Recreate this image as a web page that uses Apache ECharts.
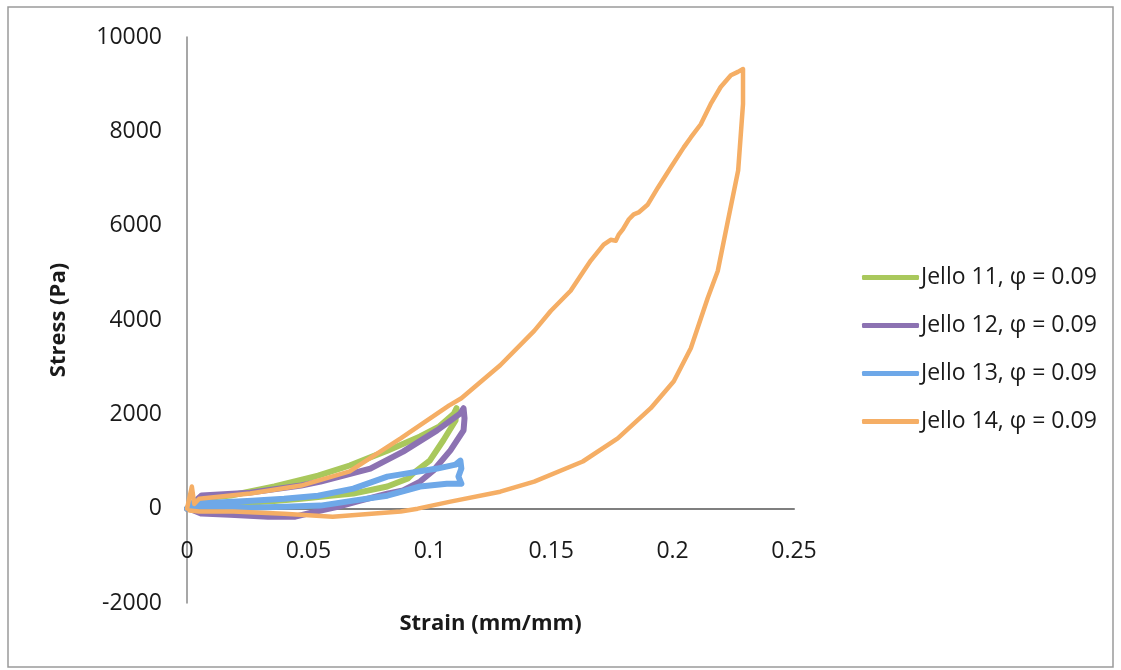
<!DOCTYPE html>
<html>
<head>
<meta charset="utf-8">
<script src="https://cdn.jsdelivr.net/npm/echarts@6/dist/echarts.min.js"></script>
<style>
html,body{margin:0;padding:0;background:#fff;}
#chart{width:1121px;height:670px;}
</style>
</head>
<body>
<div id="chart"></div>
<script>
// Series names
const seriesNames = ['Jello 11, φ = 0.09', 'Jello 12, φ = 0.09', 'Jello 13, φ = 0.09', 'Jello 14, φ = 0.09'];

// Jello 11 (loading then unloading)
const strain11 = [0, 0.005, 0.018, 0.036, 0.054, 0.067, 0.0825, 0.096, 0.104, 0.110, 0.111,
  0.1106, 0.1056, 0.100, 0.093, 0.091, 0.0825, 0.0685, 0.055, 0.047, 0.0334, 0.0177, 0.005, 0.001];
const stress11 = [0, 210, 280, 470, 700, 915, 1230, 1530, 1745, 2020, 2130,
  1870, 1450, 1020, 745, 640, 470, 320, 255, 210, 150, 105, 65, 0];

// Jello 12
const strain12 = [0, 0.006, 0.026, 0.047, 0.055, 0.0755, 0.089, 0.103, 0.1126, 0.1139, 0.1143,
  0.1139, 0.1085, 0.1015, 0.096, 0.089, 0.0825, 0.0714, 0.062, 0.055, 0.0446, 0.0334, 0.0177, 0.006, 0.001];
const stress12 = [0, 280, 340, 490, 575, 850, 1210, 1660, 2020, 2130, 1915,
  1660, 1235, 810, 575, 385, 320, 170, 40, -40, -170, -170, -130, -105, 0];

// Jello 13
const strain13 = [0, 0.003, 0.0128, 0.0268, 0.040, 0.054, 0.0685, 0.0825, 0.103, 0.1106, 0.1126,
  0.113, 0.1118, 0.113, 0.107, 0.096, 0.0825, 0.0685, 0.055, 0.040, 0.026, 0.0128, 0.003, 0.001];
const stress13 = [0, 150, 130, 170, 210, 275, 425, 680, 850, 935, 1020,
  850, 680, 530, 530, 470, 275, 170, 65, 40, 20, 40, 40, 0];

// Jello 14
const strain14 = [0, 0.002, 0.003, 0.005, 0.026, 0.047, 0.067, 0.088, 0.108, 0.113, 0.129, 0.143,
  0.1498, 0.158, 0.1634, 0.1663, 0.1716, 0.1745, 0.1766, 0.1778, 0.1795, 0.1819, 0.184, 0.186,
  0.1898, 0.194, 0.1993, 0.2046, 0.2075, 0.2116, 0.2157, 0.2198, 0.224, 0.2269, 0.229,
  0.229, 0.227, 0.2228, 0.2186, 0.2145, 0.2075, 0.2005, 0.191, 0.1774, 0.163, 0.143, 0.129,
  0.1085, 0.095, 0.088, 0.060, 0.040, 0.019, 0.005, 0.001];
const stress14 = [0, 470, 100, 210, 320, 490, 790, 1490, 2190, 2340, 3040, 3770,
  4190, 4620, 5040, 5260, 5600, 5700, 5680, 5810, 5920, 6130, 6240, 6280,
  6450, 6810, 7240, 7660, 7870, 8150, 8580, 8940, 9190, 9260, 9320,
  8580, 7170, 6110, 5040, 4470, 3400, 2700, 2130, 1490, 1000, 575, 360,
  150, 0, -60, -170, -110, -60, -60, -40];

// Axis ticks
const xTicks = [0, 0.05, 0.1, 0.15, 0.2, 0.25];
const yTicks = [-2000, 0, 2000, 4000, 6000, 8000, 10000];

const colors = ['#A9C85C', '#8C72B2', '#6EA8E8', '#F5AE65'];
const widths = [6, 6, 6, 4.5];

const zip = (xs, ys) => xs.map((x, i) => [x, ys[i]]);
const allData = [zip(strain11, stress11), zip(strain12, stress12), zip(strain13, stress13), zip(strain14, stress14)];

const FONT = '"Open Sans", "DejaVu Sans", sans-serif';

const chart = echarts.init(document.getElementById('chart'), null, {renderer: 'canvas'});
chart.setOption({
  animation: false,
  backgroundColor: '#ffffff',
  color: colors,
  graphic: [{
    type: 'rect',
    shape: {x: 8, y: 7, width: 1105, height: 660},
    style: {fill: 'none', stroke: '#9a9a9a', lineWidth: 1.5},
    silent: true,
    z: -1
  }],
  grid: {left: 187, right: 327, top: 37, bottom: 67, containLabel: false, outerBoundsMode: 'none'},
  legend: {
    orient: 'vertical',
    left: 857,
    top: 261,
    itemWidth: 57,
    itemHeight: 5,
    itemGap: 25,
    icon: 'roundRect',
    textStyle: {fontFamily: FONT, fontSize: 23, color: '#1a1a1a', padding: [0, 0, 0, -3]},
    data: seriesNames
  },
  xAxis: {
    type: 'value',
    min: xTicks[0],
    max: xTicks[xTicks.length - 1],
    interval: 0.05,
    name: 'Strain (mm/mm)',
    nameLocation: 'middle',
    nameGap: 10,
    nameTextStyle: {fontFamily: FONT, fontSize: 22, fontWeight: 'bold', color: '#1a1a1a'},
    axisLine: {onZero: true, lineStyle: {color: '#7f7f7f', width: 2}},
    axisTick: {show: false},
    splitLine: {show: false},
    axisLabel: {fontFamily: FONT, fontSize: 23, color: '#1a1a1a', margin: -63, formatter: v => String(v)}
  },
  yAxis: {
    type: 'value',
    min: yTicks[0],
    max: yTicks[yTicks.length - 1],
    interval: 2000,
    name: 'Stress (Pa)',
    nameLocation: 'middle',
    nameRotate: 90,
    nameGap: 117,
    nameTextStyle: {fontFamily: FONT, fontSize: 22, fontWeight: 'bold', color: '#1a1a1a'},
    axisLine: {show: true, onZero: false, lineStyle: {color: '#8a8a8a', width: 1.5}},
    axisTick: {show: false},
    splitLine: {show: false},
    axisLabel: {fontFamily: FONT, fontSize: 23, color: '#1a1a1a', margin: 25, formatter: v => String(v)}
  },
  series: allData.map((d, i) => ({
    name: seriesNames[i],
    type: 'line',
    data: d,
    showSymbol: false,
    symbol: 'none',
    smooth: false,
    lineStyle: {width: widths[i], color: colors[i], join: 'round', cap: 'round'},
    itemStyle: {color: colors[i]},
    z: 2 + i
  }))
});
</script>
</body>
</html>
